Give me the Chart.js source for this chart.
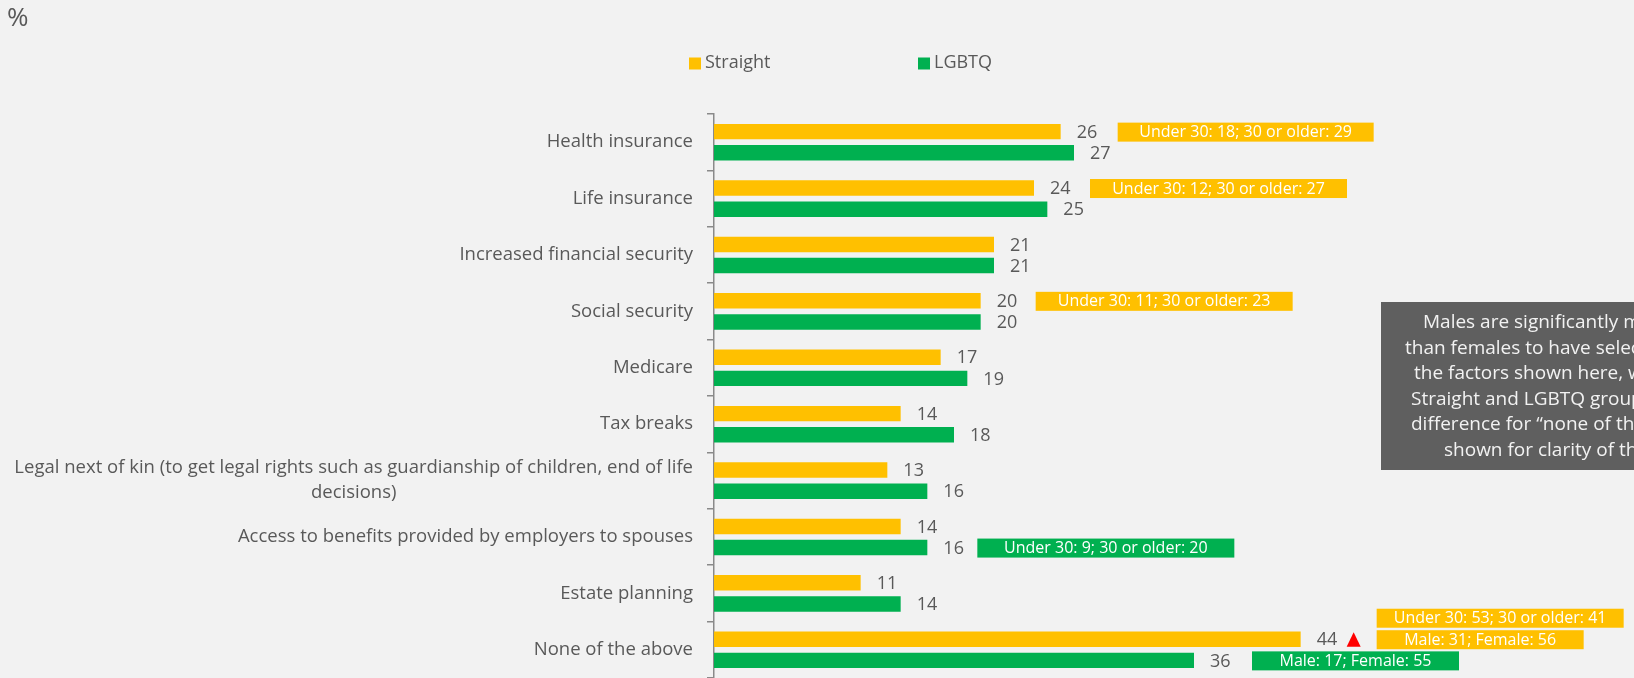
<!DOCTYPE html>
<html>
<head>
<meta charset="utf-8">
<script src="https://cdn.jsdelivr.net/npm/chart.js@4.4.1/dist/chart.umd.min.js"></script>
<style>
  html, body { margin: 0; padding: 0; background: #f2f2f2; }
  canvas { display: block; }
</style>
</head>
<body>
<canvas id="benefitsChart" width="1634" height="678"></canvas>
<script>
var categories = [
  'Health insurance',
  'Life insurance',
  'Increased financial security',
  'Social security',
  'Medicare',
  'Tax breaks',
  ['Legal next of kin (to get legal rights such as guardianship of children, end of life', 'decisions)'],
  'Access to benefits provided by employers to spouses',
  'Estate planning',
  'None of the above'
];
var seriesNames = ['Straight', 'LGBTQ'];
var straightValues = [26, 24, 21, 20, 17, 14, 13, 14, 11, 44];
var lgbtqValues = [27, 25, 21, 20, 19, 18, 16, 16, 14, 36];

// subgroup call-outs: [category, series, text]
var notes = [
  [0, 0, 'Under 30: 18; 30 or older: 29'],
  [1, 0, 'Under 30: 12; 30 or older: 27'],
  [3, 0, 'Under 30: 11; 30 or older: 23'],
  [7, 1, 'Under 30: 9; 30 or older: 20'],
  [9, 0, 'Under 30: 53; 30 or older: 41'],
  [9, 0, 'Male: 31; Female: 56'],
  [9, 1, 'Male: 17; Female: 55']
];
// box placement for each call-out: offset from bar end, vertical shift, width
var noteBoxes = [
  { dx: 57, dy: 0, w: 256 },
  { dx: 56, dy: 0, w: 257 },
  { dx: 55, dy: 0, w: 257 },
  { dx: 50, dy: 0, w: 257 },
  { dx: 76, dy: -21.5, w: 247 },
  { dx: 76, dy: 0, w: 207 },
  { dx: 58, dy: 0, w: 207 }
];
var significant = [[9, 0]];

var sideNote = [
  'Males are significantly m',
  'than females to have selec',
  'the factors shown here, w',
  'Straight and LGBTQ group',
  'difference for \u201cnone of th',
  'shown for clarity of th'
];
var sideNoteX = [1423, 1405, 1414, 1411, 1411, 1444];

var YELLOW = '#FFC000';
var GREEN = '#00B050';
var TEXT = '#595959';
var FONT = '"Open Sans", sans-serif';

var labelsPlugin = {
  id: 'labels',
  beforeDraw: function(chart) {
    var ctx = chart.ctx;
    ctx.save();
    ctx.fillStyle = '#f2f2f2';
    ctx.fillRect(0, 0, chart.width, chart.height);
    ctx.restore();
  },
  afterDatasetsDraw: function(chart) {
    var ctx = chart.ctx;
    var yScale = chart.scales.y;
    ctx.save();

    // unit mark
    ctx.fillStyle = TEXT;
    ctx.font = '26px ' + FONT;
    ctx.textAlign = 'left';
    ctx.textBaseline = 'middle';
    ctx.fillText('%', 7, 19);

    // legend
    var legendX = [689, 918];
    var colors = [YELLOW, GREEN];
    ctx.font = '18px ' + FONT;
    seriesNames.forEach(function(name, i) {
      ctx.fillStyle = colors[i];
      ctx.fillRect(legendX[i], 57.5, 12, 12);
      ctx.fillStyle = TEXT;
      ctx.fillText(name, legendX[i] + 16, 63);
    });

    // category labels
    ctx.font = '18.5px ' + FONT;
    categories.forEach(function(cat, i) {
      var y = yScale.getPixelForTick(i);
      var lines = Array.isArray(cat) ? cat : [cat];
      var lh = 25;
      var top = y - (lines.length - 1) * lh / 2;
      var w0 = ctx.measureText(lines[0]).width;
      lines.forEach(function(line, k) {
        if (k == 0) {
          ctx.textAlign = 'right';
          ctx.fillText(line, 693, top);
        } else {
          ctx.textAlign = 'center';
          ctx.fillText(line, 693 - w0 / 2, top + k * lh);
        }
      });
    });

    // value labels
    ctx.font = '18px ' + FONT;
    ctx.textAlign = 'left';
    chart.data.datasets.forEach(function(ds, d) {
      chart.getDatasetMeta(d).data.forEach(function(bar, i) {
        ctx.fillStyle = TEXT;
        ctx.fillText(ds.data[i], bar.x + 16, bar.y + 1);
      });
    });

    // call-out boxes
    ctx.font = '16px ' + FONT;
    ctx.textAlign = 'center';
    notes.forEach(function(n, k) {
      var bar = chart.getDatasetMeta(n[1]).data[n[0]];
      var b = noteBoxes[k];
      var bx = bar.x + b.dx;
      var by = bar.y + b.dy - 9;
      ctx.fillStyle = n[1] == 0 ? YELLOW : GREEN;
      ctx.fillRect(bx, by, b.w, 19);
      ctx.fillStyle = '#ffffff';
      ctx.fillText(n[2], bx + b.w / 2, by + 10);
    });

    // significance marker
    significant.forEach(function(s) {
      var bar = chart.getDatasetMeta(s[1]).data[s[0]];
      var cx = bar.x + 53;
      ctx.fillStyle = '#ff0000';
      ctx.beginPath();
      ctx.moveTo(cx, bar.y - 7);
      ctx.lineTo(cx + 7, bar.y + 7.5);
      ctx.lineTo(cx - 7, bar.y + 7.5);
      ctx.closePath();
      ctx.fill();
    });

    // side note
    ctx.fillStyle = '#5f5f5f';
    ctx.fillRect(1381, 302, 300, 168);
    ctx.fillStyle = '#f2f2f2';
    ctx.font = '19px ' + FONT;
    ctx.textAlign = 'left';
    sideNote.forEach(function(line, k) {
      ctx.fillText(line, sideNoteX[k], 323 + k * 25.5);
    });

    ctx.restore();
  }
};

var ctx = document.getElementById('benefitsChart').getContext('2d');
var benefitsChart = new Chart(ctx, {
  type: 'bar',
  data: {
    labels: categories,
    datasets: [{
      label: seriesNames[0],
      data: straightValues,
      backgroundColor: YELLOW
    }, {
      label: seriesNames[1],
      data: lgbtqValues,
      backgroundColor: GREEN
    }]
  },
  options: {
    indexAxis: 'y',
    responsive: false,
    animation: false,
    categoryPercentage: 0.75,
    barPercentage: 0.73,
    layout: { padding: { top: 114, right: 0, bottom: 0, left: 0 } },
    scales: {
      x: { display: false, min: 0, max: 69 },
      y: {
        offset: true,
        grid: {
          offset: true,
          drawOnChartArea: false,
          drawTicks: true,
          tickLength: 7,
          color: '#8a8a8a',
          lineWidth: 1.5
        },
        border: { display: true, color: '#8a8a8a', width: 1.5 },
        ticks: { display: false },
        afterFit: function(scale) { scale.width = 714; }
      }
    },
    plugins: {
      legend: { display: false },
      tooltip: { enabled: false },
      title: { display: false }
    }
  },
  plugins: [labelsPlugin]
});
</script>
</body>
</html>
